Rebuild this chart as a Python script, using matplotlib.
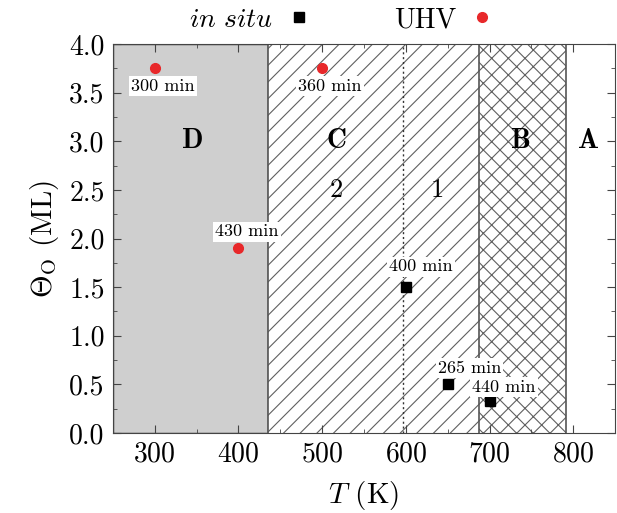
import numpy as np
import matplotlib
matplotlib.use("Agg")
import matplotlib.pyplot as plt

plt.rcParams["font.family"] = "serif"
plt.rcParams["font.serif"] = ["cmr10", "DejaVu Serif"]
plt.rcParams["mathtext.fontset"] = "cm"
plt.rcParams["axes.formatter.use_mathtext"] = True
plt.rcParams["hatch.linewidth"] = 0.8

# data
insitu_T = [600, 650, 700]
insitu_theta = [1.5, 0.5, 0.33]
insitu_labels = ["400 min", "265 min", "440 min"]

uhv_T = [300, 500, 400]
uhv_theta = [3.75, 3.75, 1.9]
uhv_labels = ["300 min", "360 min", "430 min"]

# region limits (K)
bounds = [250, 435, 687, 791, 850]
region_names = ["D", "C", "B", "A"]
region_x = [345, 517, 736, 818]
sub_x = [517, 637]
sub_names = ["2", "1"]
split_T = 597

fig = plt.figure(figsize=(6.17, 5.13), dpi=100)
ax = fig.add_axes([0.183, 0.156, 0.814, 0.758])

ax.axvspan(bounds[0], bounds[1], facecolor="#cfcfcf", edgecolor="#333333", lw=1.0, zorder=0)
ax.axvspan(bounds[1], bounds[2], facecolor="white", edgecolor="#606060", hatch="//", lw=0, zorder=0)
ax.axvspan(bounds[2], bounds[3], facecolor="white", edgecolor="#606060", hatch="xx", lw=0, zorder=0)
for b in bounds[1:4]:
    ax.axvline(b, color="#555555", lw=1.2, zorder=1)
ax.axvline(split_T, color="#333333", lw=1.0, ls=(0, (1.5, 2)), zorder=1)

for name, x in zip(region_names, region_x):
    ax.text(x, 3.0, r"$\mathbf{%s}$" % name, ha="center", va="center", fontsize=20, zorder=3)
for name, x in zip(sub_names, sub_x):
    ax.text(x, 2.5, name, ha="center", va="center", fontsize=19, zorder=3)

sq, = ax.plot(insitu_T, insitu_theta, "s", color="black", ms=7.5, ls="none", zorder=4)
rd, = ax.plot(uhv_T, uhv_theta, "o", color="#e8282a", ms=7, ls="none", zorder=4)

box = dict(facecolor="white", edgecolor="none", pad=1.5)
insitu_off = [(18, 0.21), (26, 0.17), (17, 0.14)]
for t, th, lab, (dx, dy) in zip(insitu_T, insitu_theta, insitu_labels, insitu_off):
    ax.text(t + dx, th + dy, lab, ha="center", va="center", fontsize=13, bbox=box, zorder=5)
uhv_off = [(10, -0.18), (9, -0.18), (10, 0.17)]
for t, th, lab, (dx, dy) in zip(uhv_T, uhv_theta, uhv_labels, uhv_off):
    ax.text(t + dx, th + dy, lab, ha="center", va="center", fontsize=13, bbox=box, zorder=5)

ax.set_xlim(250, 850)
ax.set_ylim(0, 4.0)
ax.set_xticks([300, 400, 500, 600, 700, 800])
ax.set_xticks(np.arange(250, 851, 50), minor=True)
ax.set_yticks(np.arange(0, 4.01, 0.5))
ax.set_yticks(np.arange(0, 4.01, 0.25), minor=True)
ax.yaxis.set_major_formatter(plt.FormatStrFormatter("%.1f"))
ax.tick_params(which="both", direction="in", top=True, right=True, labelsize=20, color="#444444")
ax.tick_params(which="major", length=6, pad=6)
ax.tick_params(which="minor", length=3)
for s in ax.spines.values():
    s.set_color("#444444")

ax.set_xlabel(r"$T$ (K)", fontsize=21, labelpad=8)
ax.set_ylabel(r"$\Theta_{\rm O}$ (ML)", fontsize=21, labelpad=6)

ax.legend([sq, rd], [r"$\it{in\ situ}$", "UHV"], ncol=2, markerfirst=False, frameon=False,
          loc="lower center", bbox_to_anchor=(0.457, 1.0), fontsize=20, columnspacing=2.9,
          handletextpad=0.45, borderaxespad=0, handlelength=1.0)

fig.savefig("out.png", dpi=100)
